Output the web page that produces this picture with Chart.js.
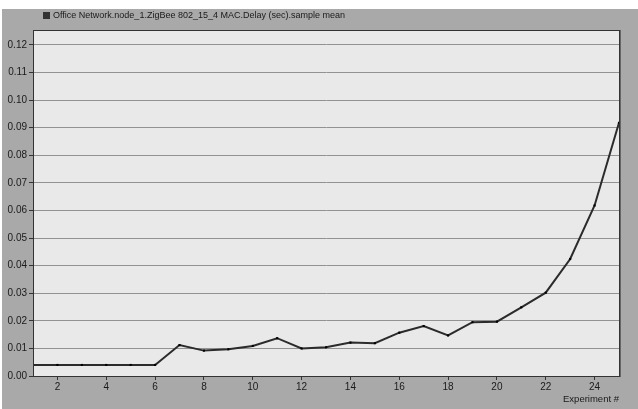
<!DOCTYPE html>
<html>
<head>
<meta charset="utf-8">
<script src="https://cdn.jsdelivr.net/npm/chart.js@4.4.0/dist/chart.umd.min.js"></script>
<style>
  html, body { margin: 0; padding: 0; background: #fff; }
  #wrap { position: absolute; left: 2px; top: 9px; width: 636px; height: 400px; }
</style>
</head>
<body>
<div id="wrap"><canvas id="chartDelay"></canvas></div>
<script>
const experiments = [1, 2, 3, 4, 5, 6, 7, 8, 9, 10, 11, 12, 13, 14, 15, 16, 17, 18, 19, 20, 21, 22, 23, 24, 25];
const delayMean = [0.0040, 0.0040, 0.0040, 0.0040, 0.0040, 0.0040, 0.0112, 0.0092, 0.0097, 0.0109,
                   0.0137, 0.0100, 0.0104, 0.0121, 0.0119, 0.0157, 0.0181, 0.0147, 0.0195, 0.0197,
                   0.0249, 0.0302, 0.0424, 0.0618, 0.0918];
const xTicks = [2, 4, 6, 8, 10, 12, 14, 16, 18, 20, 22, 24];
const yTicks = [0, 0.01, 0.02, 0.03, 0.04, 0.05, 0.06, 0.07, 0.08, 0.09, 0.10, 0.11, 0.12];
const seriesLabel = 'Office Network.node_1.ZigBee 802_15_4 MAC.Delay (sec).sample mean';

const fuente = '"Liberation Sans", Arial, sans-serif';

// fondo gris, marco del area y leyenda arriba
const fondoPlugin = {
    id: 'fondo',
    beforeDraw(chart) {
        const c = chart.ctx, a = chart.chartArea;
        c.save();
        c.fillStyle = '#a9a9a9';
        c.fillRect(0, 0, chart.width, chart.height);
        c.fillStyle = '#e9e9e9';
        c.fillRect(a.left, a.top, a.right - a.left, a.bottom - a.top);
        c.restore();
    },
    afterDraw(chart) {
        const c = chart.ctx, a = chart.chartArea;
        c.save();
        c.strokeStyle = '#333';
        c.lineWidth = 1;
        c.strokeRect(a.left + 0.5, a.top + 0.5, a.right - a.left, a.bottom - a.top);
        c.strokeStyle = '#666';
        c.beginPath();
        c.moveTo(a.right + 1.5, a.top);
        c.lineTo(a.right + 1.5, a.bottom + 1);
        c.stroke();
        c.fillStyle = '#333';
        c.fillRect(41, 3, 7, 7);
        c.fillStyle = '#1a1a1a';
        c.font = '9px ' + fuente;
        c.textBaseline = 'middle';
        c.fillText(seriesLabel, 51, 7);
        c.restore();
    }
};

new Chart(document.getElementById('chartDelay'), {
    type: 'line',
    data: {
        datasets: [{
            label: seriesLabel,
            data: experiments.map((x, i) => ({ x: x, y: delayMean[i] })),
            borderColor: '#2b2b2b',
            borderWidth: 2,
            tension: 0,
            pointStyle: 'rect',
            pointRadius: 1.5,
            pointBackgroundColor: '#000',
            pointBorderColor: '#000',
            pointBorderWidth: 0
        }]
    },
    options: {
        responsive: true,
        maintainAspectRatio: false,
        animation: false,
        layout: { padding: { top: 21, right: 19, left: 0, bottom: 0 } },
        plugins: {
            legend: { display: false },
            tooltip: { enabled: false }
        },
        scales: {
            x: {
                type: 'linear',
                min: 1,
                max: 25,
                afterBuildTicks: axis => { axis.ticks = xTicks.map(v => ({ value: v })); },
                afterFit: axis => { axis.height = 33; },
                ticks: {
                    color: '#1a1a1a',
                    font: { size: 10, family: fuente },
                    padding: 1,
                    maxRotation: 0
                },
                grid: { display: true, drawOnChartArea: false, color: '#333', tickLength: 4 },
                border: { color: '#333' },
                title: {
                    display: true,
                    text: 'Experiment #',
                    align: 'end',
                    color: '#1a1a1a',
                    font: { size: 9.5, family: fuente },
                    padding: { top: 0, bottom: 4 }
                }
            },
            y: {
                min: 0,
                max: 0.1254,
                afterBuildTicks: axis => { axis.ticks = yTicks.map(v => ({ value: v })); },
                afterFit: axis => { axis.width = 31; },
                ticks: {
                    color: '#1a1a1a',
                    font: { size: 10, family: fuente },
                    padding: 2,
                    callback: v => v.toFixed(2)
                },
                grid: { color: '#929292', lineWidth: 1, tickLength: 4, tickColor: '#333' },
                border: { color: '#333' }
            }
        }
    },
    plugins: [fondoPlugin]
});
</script>
</body>
</html>
